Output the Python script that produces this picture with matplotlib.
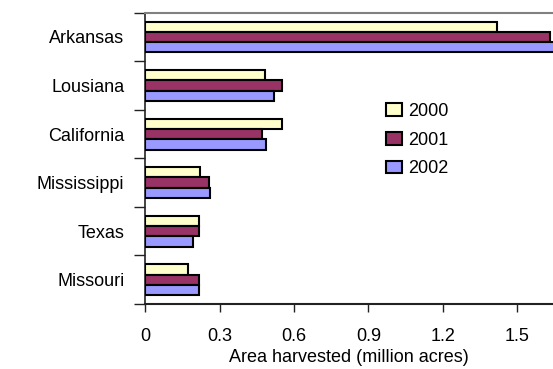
import matplotlib.pyplot as plt
import numpy as np
from matplotlib.ticker import FixedLocator

plt.rcParams["font.family"] = ["Liberation Sans", "DejaVu Sans"]

states = ["Arkansas", "Lousiana", "California", "Mississippi", "Texas", "Missouri"]
years = ["2000", "2001", "2002"]
acres_2000 = [1.42, 0.484, 0.552, 0.221, 0.215, 0.173]
acres_2001 = [1.63, 0.550, 0.472, 0.256, 0.218, 0.215]
acres_2002 = [1.70, 0.519, 0.485, 0.261, 0.191, 0.218]
x_ticks = [0, 0.3, 0.6, 0.9, 1.2, 1.5]
x_tick_labels = ["0", "0.3", "0.6", "0.9", "1.2", "1.5"]

colors = ["#FFFFCC", "#993366", "#9999FF"]
series = [acres_2000, acres_2001, acres_2002]
fs = 13

fig = plt.figure(figsize=(5.53, 3.69), dpi=100)
ax = fig.add_axes([145.3 / 553, 1 - 304 / 369, 1 - 145.3 / 553, (304 - 12.7) / 369])

y = np.arange(len(states))
bar_h = 0.212
for i, (vals, col, yr) in enumerate(zip(series, colors, years)):
    ax.barh(y + (i - 1) * bar_h, vals, height=bar_h, color=col,
            edgecolor="black", linewidth=1.5, label=yr, zorder=3)

ax.set_ylim(len(states) - 0.5, -0.5)
ax.set_xlim(0, 1.644)

# state names sit between the boundary ticks
ax.set_yticks(y)
ax.set_yticklabels(states)
ax.yaxis.set_minor_locator(FixedLocator(np.arange(-0.5, len(states), 1.0)))
ax.tick_params(axis="y", which="major", length=0, pad=15, labelsize=fs)
ax.tick_params(axis="y", which="minor", length=8, width=1, color="#222222", direction="out")

ax.set_xticks(x_ticks)
ax.set_xticklabels(x_tick_labels)
ax.tick_params(axis="x", length=6, width=1, color="#222222", pad=11, labelsize=fs)

ax.set_xlabel("Area harvested (million acres)", fontsize=fs, labelpad=3)

ax.spines["right"].set_visible(False)
ax.spines["top"].set_color("#808080")
ax.spines["top"].set_linewidth(1.5)
ax.spines["left"].set_color("#222222")
ax.spines["bottom"].set_color("#222222")
ax.spines["left"].set_linewidth(1.2)
ax.spines["bottom"].set_linewidth(1.5)

ax.legend(loc="upper left", bbox_to_anchor=(0.573, 0.715), frameon=False,
          fontsize=fs, handlelength=0.9, handleheight=0.7,
          handletextpad=0.3, labelspacing=0.65, borderaxespad=0)

fig.savefig("out.png", dpi=100)
